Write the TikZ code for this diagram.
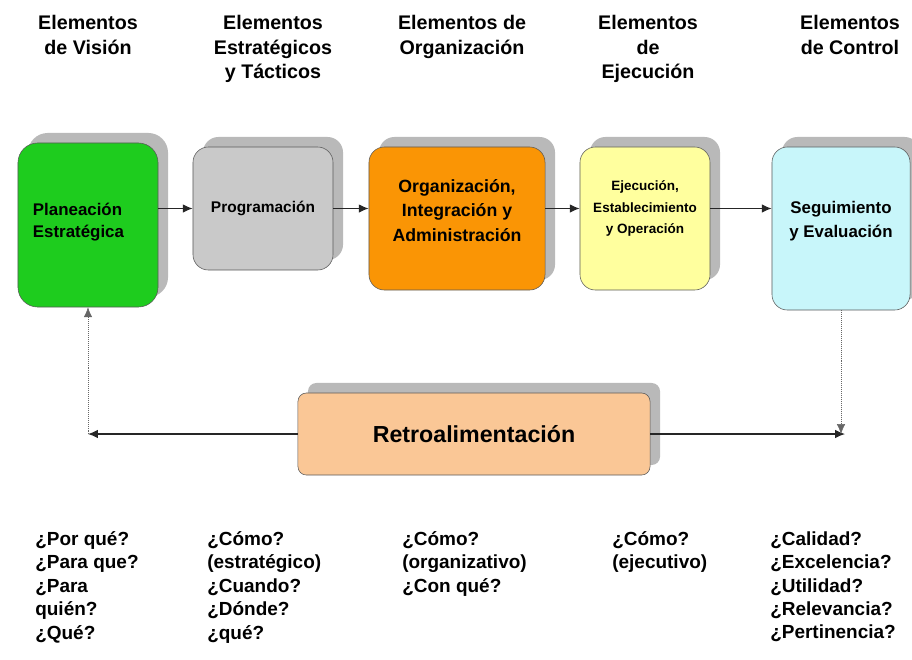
\documentclass[tikz,border=0pt]{standalone}
\usepackage{fontspec}
\setmainfont{Liberation Sans}
\usetikzlibrary{
  positioning,
  arrows.meta,
  shadows
}
\definecolor{vision}{HTML}{1ECC1E}
\definecolor{tactic}{HTML}{C9C9C9}
\definecolor{organ}{HTML}{FA9505}
\definecolor{exec}{HTML}{FFFF9E}
\definecolor{control}{HTML}{C8F6FA}
\definecolor{feedback}{HTML}{FAC796}
\definecolor{shade}{HTML}{B9B9B9}

\begin{document}
\begin{tikzpicture}[
  x=0.025cm, y=-0.025cm,
  stage/.style={draw=black!65, rounded corners=11pt, align=center, inner sep=2pt,
               drop shadow={shadow xshift=0.25cm, shadow yshift=0.25cm, fill=shade, opacity=1}},
  head/.style={font=\bfseries\fontsize{14}{17.5}\selectfont, align=center, anchor=north, inner sep=0pt},
  ask/.style={font=\bfseries\fontsize{13.5}{16.7}\selectfont, align=left, anchor=north west, inner sep=0pt},
  flow/.style={-{Latex[length=7pt,width=6pt]}, thick, black!85},
  back/.style={-{Latex[length=7pt,width=6pt]}, densely dotted, black!60},
]
  \useasboundingbox (0,0) rectangle (912,659);

  % cabeceras
  \node[head] (hvis) at (88,15) {Elementos\\de Visión};
  \node[head] (htac) at (273,15) {Elementos\\Estratégicos\\y Tácticos};
  \node[head] (horg) at (462,15) {Elementos de\\Organización};
  \node[head] (heje) at (648,15) {Elementos\\de\\Ejecución};
  \node[head] (hcon) at (850,15) {Elementos\\de Control};

  % etapas
  \node[stage, fill=vision, minimum width=3.5cm, minimum height=4.1cm, rounded corners=14pt,
        align=left, text width=2.75cm, text depth=23pt,
        font=\bfseries\fontsize{12}{16}\selectfont] (plan) at (88,225)
    {Planeación\\Estratégica};
  \node[stage, fill=tactic, minimum width=3.5cm, minimum height=3.075cm,
        font=\bfseries\fontsize{11}{15}\selectfont] (prog) at (263,208.5) {Programación};
  \node[stage, fill=organ, minimum width=4.4cm, minimum height=3.575cm, text depth=12pt,
        font=\bfseries\fontsize{12.6}{17.4}\selectfont] (org) at (457,218.5)
    {Organización,\\Integración y\\Administración};
  \node[stage, fill=exec, minimum width=3.25cm, minimum height=3.575cm, text depth=16pt,
        font=\bfseries\fontsize{9.6}{15.3}\selectfont] (eje) at (645,218.5)
    {Ejecución,\\Establecimiento\\y Operación};
  \node[stage, fill=control, minimum width=3.45cm, minimum height=4.075cm, text depth=13pt,
        font=\bfseries\fontsize{12}{16.4}\selectfont] (seg) at (841,228.5)
    {Seguimiento\\y Evaluación};

  \node[stage, fill=feedback, minimum width=8.8cm, minimum height=2.05cm, rounded corners=6pt,
        font=\bfseries\fontsize{16.5}{20}\selectfont] (retro) at (474,434) {Retroalimentación};

  \draw[flow] (prog.west -| plan.east) -- (prog.west);
  \draw[flow] (prog.east) -- (prog.east -| org.west);
  \draw[flow] (prog.east -| org.east) -- (prog.east -| eje.west);
  \draw[flow] (prog.east -| eje.east) -- (prog.east -| seg.west);

  % lazo de retroalimentacion
  \coordinate (lend) at (88,434);
  \coordinate (rend) at (845,434);
  \draw[flow] (retro.west) -- (lend);
  \draw[flow] (retro.east) -- (rend);
  \draw[back] (lend) -- (plan.south);
  \draw[back] (seg.south) -- (seg.south |- rend);

  % preguntas
  \node[ask] (qvis) at (35,531) {¿Por qué?\\¿Para que?\\¿Para\\quién?\\¿Qué?};
  \node[ask] (qtac) at (207,531) {¿Cómo?\\(estratégico)\\¿Cuando?\\¿Dónde?\\¿qué?};
  \node[ask] (qorg) at (402,531) {¿Cómo?\\(organizativo)\\¿Con qué?};
  \node[ask] (qeje) at (612,531) {¿Cómo?\\(ejecutivo)};
  \node[ask] (qcon) at (770,531) {¿Calidad?\\¿Excelencia?\\¿Utilidad?\\¿Relevancia?\\¿Pertinencia?};
\end{tikzpicture}
\end{document}
